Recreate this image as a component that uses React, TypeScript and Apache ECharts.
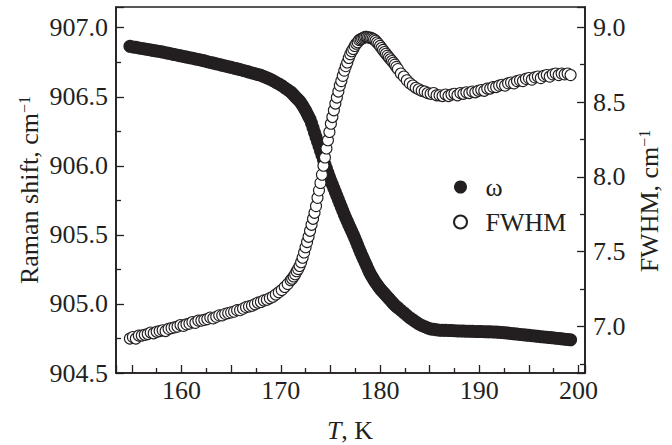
import React, { useEffect, useRef } from "react";
import * as echarts from "echarts";

// Temperature grid (K)
const temperature = [
  154.8, 155.1, 155.4, 155.7, 156.0, 156.3, 156.6, 156.9, 157.2, 157.5,
  157.8, 158.1, 158.4, 158.7, 159.0, 159.3, 159.6, 159.9, 160.2, 160.5,
  160.8, 161.1, 161.4, 161.7, 162.0, 162.3, 162.6, 162.9, 163.2, 163.5,
  163.8, 164.1, 164.4, 164.7, 165.0, 165.3, 165.6, 165.9, 166.2, 166.5,
  166.8, 167.1, 167.4, 167.7, 168.0, 168.3, 168.6, 168.9, 169.2, 169.5,
  169.8, 170.1, 170.4, 170.7, 171.0,
  171.15, 171.3, 171.45, 171.6, 171.75, 171.9, 172.05, 172.2, 172.35, 172.5,
  172.65, 172.8, 172.95, 173.1, 173.25, 173.4, 173.55, 173.7, 173.85, 174.0,
  174.15, 174.3, 174.45, 174.6, 174.75, 174.9, 175.05, 175.2, 175.35, 175.5,
  175.65, 175.8, 175.95, 176.1, 176.25, 176.4, 176.55, 176.7, 176.85, 177.0,
  177.15, 177.3, 177.45, 177.6, 177.75, 177.9, 178.05, 178.2, 178.35, 178.5,
  178.65, 178.8, 178.95, 179.1, 179.25, 179.4, 179.55, 179.7, 179.85, 180.0,
  180.15, 180.3, 180.45, 180.6, 180.75, 180.9, 181.05, 181.2, 181.35, 181.5,
  181.65, 181.8,
  182.1, 182.4, 182.7, 183.0, 183.3, 183.6, 183.9, 184.2, 184.5, 184.8,
  185.1, 185.4, 185.7, 186.0, 186.3, 186.6, 186.9, 187.2, 187.5, 187.8,
  188.1, 188.4, 188.7, 189.0, 189.3, 189.6, 189.9, 190.2, 190.5, 190.8,
  191.1, 191.4, 191.7, 192.0, 192.3, 192.6, 192.9, 193.2, 193.5, 193.8,
  194.1, 194.4, 194.7, 195.0, 195.3, 195.6, 195.9, 196.2, 196.5, 196.8,
  197.1, 197.4, 197.7, 198.0, 198.3, 198.6, 198.9, 199.2,
];

// Raman shift ω (cm^-1), left axis
const omega = [
  906.865, 906.861, 906.858, 906.854, 906.850, 906.846, 906.843, 906.839, 906.835, 906.831,
  906.828, 906.824, 906.819, 906.815, 906.810, 906.806, 906.801, 906.797, 906.792, 906.788,
  906.783, 906.779, 906.774, 906.770, 906.765, 906.760, 906.754, 906.749, 906.744, 906.739,
  906.734, 906.728, 906.723, 906.718, 906.713, 906.707, 906.702, 906.697, 906.691, 906.685,
  906.679, 906.673, 906.667, 906.661, 906.655, 906.646, 906.637, 906.628, 906.617, 906.605,
  906.593, 906.580, 906.565, 906.550, 906.535,
  906.524, 906.513, 906.501, 906.490, 906.479, 906.468, 906.454, 906.436, 906.418, 906.400,
  906.379, 906.358, 906.337, 906.308, 906.275, 906.242, 906.209, 906.176, 906.143, 906.110,
  906.077, 906.044, 906.011, 905.980, 905.950, 905.920, 905.891, 905.864, 905.837, 905.810,
  905.783, 905.756, 905.729, 905.702, 905.675, 905.648, 905.622, 905.598, 905.574, 905.550,
  905.526, 905.502, 905.478, 905.452, 905.425, 905.398, 905.372, 905.348, 905.324, 905.300,
  905.276, 905.252, 905.228, 905.208, 905.190, 905.172, 905.155, 905.140, 905.125, 905.110,
  905.098, 905.086, 905.074, 905.062, 905.050, 905.038, 905.026, 905.014, 905.002, 904.990,
  904.981, 904.972,
  904.954, 904.936, 904.918, 904.900, 904.885, 904.870, 904.855, 904.844, 904.835, 904.826,
  904.819, 904.816, 904.813, 904.810, 904.809, 904.809, 904.808, 904.807, 904.806, 904.805,
  904.805, 904.804, 904.803, 904.803, 904.802, 904.801, 904.800, 904.800, 904.799, 904.798,
  904.798, 904.797, 904.796, 904.795, 904.793, 904.791, 904.789, 904.786, 904.784, 904.782,
  904.779, 904.777, 904.775, 904.773, 904.770, 904.768, 904.766, 904.763, 904.761, 904.759,
  904.757, 904.755, 904.752, 904.750, 904.748, 904.745, 904.743, 904.740,
];

// FWHM (cm^-1), right axis
const fwhm = [
  6.92, 6.93, 6.92, 6.94, 6.94, 6.945, 6.95, 6.96, 6.955, 6.965,
  6.97, 6.975, 6.97, 6.985, 6.99, 6.995, 7.0, 7.01, 7.005, 7.015,
  7.02, 7.03, 7.025, 7.04, 7.04, 7.045, 7.05, 7.06, 7.055, 7.065,
  7.075, 7.075, 7.085, 7.09, 7.095, 7.1, 7.11, 7.11, 7.12, 7.13,
  7.135, 7.14, 7.15, 7.16, 7.165, 7.175, 7.18, 7.19, 7.2, 7.215,
  7.23, 7.245, 7.265, 7.285, 7.31,
  7.32, 7.335, 7.35, 7.37, 7.385, 7.405, 7.43, 7.46, 7.495, 7.53,
  7.565, 7.6, 7.64, 7.68, 7.72, 7.76, 7.805, 7.86, 7.91, 7.96,
  8.015, 8.075, 8.13, 8.19, 8.245, 8.3, 8.355, 8.4, 8.445, 8.49,
  8.53, 8.57, 8.61, 8.64, 8.675, 8.71, 8.74, 8.765, 8.795, 8.82,
  8.84, 8.855, 8.875, 8.89, 8.9, 8.915, 8.92, 8.925, 8.93, 8.935,
  8.935, 8.933, 8.93, 8.928, 8.923, 8.918, 8.91, 8.898, 8.887, 8.875,
  8.861, 8.848, 8.834, 8.822, 8.81, 8.798, 8.786, 8.774, 8.762, 8.75,
  8.735, 8.72,
  8.69, 8.67, 8.645, 8.625, 8.61, 8.595, 8.585, 8.575, 8.57, 8.56,
  8.555, 8.56, 8.545, 8.545, 8.54, 8.55, 8.54, 8.55, 8.555, 8.545,
  8.56, 8.555, 8.565, 8.56, 8.57, 8.565, 8.575, 8.58, 8.575, 8.59,
  8.59, 8.6, 8.6, 8.61, 8.615, 8.61, 8.625, 8.63, 8.625, 8.64,
  8.645, 8.64, 8.655, 8.66, 8.65, 8.665, 8.67, 8.66, 8.675, 8.68,
  8.67, 8.685, 8.69, 8.68, 8.69, 8.685, 8.69, 8.68,
];

const xTickLabels = [160, 170, 180, 190, 200];
const leftTickLabels = [904.5, 905.0, 905.5, 906.0, 906.5, 907.0];
const rightTickLabels = [7.0, 7.5, 8.0, 8.5, 9.0];

const seriesNames = ["ω", "FWHM"];

const FONT = "'Liberation Serif', 'Times New Roman', serif";
const INK = "#231f20";
const FS = 26;

const isIn = (list: number[], v: number) => list.some((t) => Math.abs(t - v) < 1e-6);

export default function App() {
  const ref = useRef<HTMLDivElement>(null);
  useEffect(() => {
    const chart = echarts.init(ref.current!, null, { renderer: "svg" });
    const omegaData = temperature.map((t, i) => [t, omega[i]]);
    const fwhmData = temperature.map((t, i) => [t, fwhm[i]]);
    const labelStyle = { fontFamily: FONT, fontSize: FS, color: INK };
    const option: any = {
      animation: false,
      backgroundColor: "#ffffff",
      grid: {
        left: 116,
        top: 7,
        width: 469,
        height: 366,
        show: true,
        borderColor: INK,
        borderWidth: 1.6,
        backgroundColor: "transparent",
        outerBoundsMode: "none",
      },
      xAxis: {
        type: "value",
        min: 153.4,
        max: 200.65,
        minInterval: 5,
        maxInterval: 5,
        splitNumber: 9,
        axisLine: { show: true, onZero: false, lineStyle: { color: INK, width: 1.6 } },
        axisTick: { show: true, inside: true, length: 8, lineStyle: { color: INK, width: 1.3 } },
        minorTick: { show: true, splitNumber: 2, length: 5, lineStyle: { color: INK, width: 1.3 } },
        splitLine: { show: false },
        minorSplitLine: { show: false },
        axisLabel: {
          ...labelStyle,
          margin: 4,
          formatter: (v: number) => (isIn(xTickLabels, v) ? String(Math.round(v)) : ""),
        },
      },
      yAxis: [
        {
          type: "value",
          position: "left",
          min: 904.5,
          max: 907.15,
          minInterval: 0.5,
          maxInterval: 0.5,
          splitNumber: 5,
          axisLine: { show: true, onZero: false, lineStyle: { color: INK, width: 1.6 } },
          axisTick: { show: true, inside: true, length: 8, lineStyle: { color: INK, width: 1.3 } },
          minorTick: { show: true, splitNumber: 2, length: 5, lineStyle: { color: INK, width: 1.3 } },
          splitLine: { show: false },
          axisLabel: {
            ...labelStyle,
            margin: 8,
            formatter: (v: number) => (isIn(leftTickLabels, v) ? v.toFixed(1) : ""),
          },
        },
        {
          type: "value",
          position: "right",
          min: 6.69,
          max: 9.135,
          minInterval: 0.5,
          maxInterval: 0.5,
          splitNumber: 5,
          axisLine: { show: true, onZero: false, lineStyle: { color: INK, width: 1.6 } },
          axisTick: { show: true, inside: true, length: 8, lineStyle: { color: INK, width: 1.3 } },
          minorTick: { show: true, splitNumber: 2, length: 5, lineStyle: { color: INK, width: 1.3 } },
          splitLine: { show: false },
          axisLabel: {
            ...labelStyle,
            margin: 8,
            formatter: (v: number) => (isIn(rightTickLabels, v) ? v.toFixed(1) : ""),
          },
        },
      ],
      legend: {
        orient: "vertical",
        left: 453,
        top: 174,
        padding: 0,
        itemGap: 9,
        itemWidth: 40,
        itemHeight: 13,
        selectedMode: false,
        data: seriesNames.map((n) => ({ name: n, icon: "circle" })),
        textStyle: { ...labelStyle },
      },
      graphic: [
        {
          type: "text",
          x: 29,
          y: 190,
          rotation: Math.PI / 2,
          style: {
            text: "Raman shift, cm{sup|−1}",
            fontFamily: FONT,
            fontSize: FS,
            fill: INK,
            align: "center",
            verticalAlign: "middle",
            textAlign: "center",
            textVerticalAlign: "middle",
            rich: {
              sup: { fontFamily: FONT, fontSize: 16, fill: INK, verticalAlign: "top" },
            },
          },
        },
        {
          type: "text",
          x: 649,
          y: 201,
          rotation: Math.PI / 2,
          style: {
            text: "FWHM, cm{sup|−1}",
            fontFamily: FONT,
            fontSize: FS,
            fill: INK,
            align: "center",
            verticalAlign: "middle",
            textAlign: "center",
            textVerticalAlign: "middle",
            rich: {
              sup: { fontFamily: FONT, fontSize: 16, fill: INK, verticalAlign: "top" },
            },
          },
        },
        {
          type: "text",
          x: 350,
          y: 430,
          style: {
            text: "{i|T}, K",
            fontFamily: FONT,
            fontSize: FS,
            fill: INK,
            align: "center",
            verticalAlign: "middle",
            textAlign: "center",
            textVerticalAlign: "middle",
            rich: {
              i: { fontFamily: FONT, fontSize: FS, fontStyle: "italic", fill: INK },
            },
          },
        },
      ],
      series: [
        {
          name: seriesNames[0],
          type: "scatter",
          xAxisIndex: 0,
          yAxisIndex: 0,
          data: omegaData,
          symbol: "circle",
          symbolSize: 13,
          itemStyle: { color: INK, borderWidth: 0, opacity: 1 },
          emphasis: { disabled: true },
          z: 2,
        },
        {
          name: seriesNames[1],
          type: "scatter",
          xAxisIndex: 0,
          yAxisIndex: 1,
          data: fwhmData,
          symbol: "circle",
          symbolSize: 11,
          itemStyle: { color: "#ffffff", borderColor: INK, borderWidth: 1.1, opacity: 1 },
          emphasis: { disabled: true },
          z: 3,
        },
      ],
    };
    chart.setOption(option);
    return () => chart.dispose();
  }, []);
  return (
    <div
      ref={ref}
      style={{ position: "absolute", left: 0, top: 0, width: 672, height: 445 }}
    />
  );
}
